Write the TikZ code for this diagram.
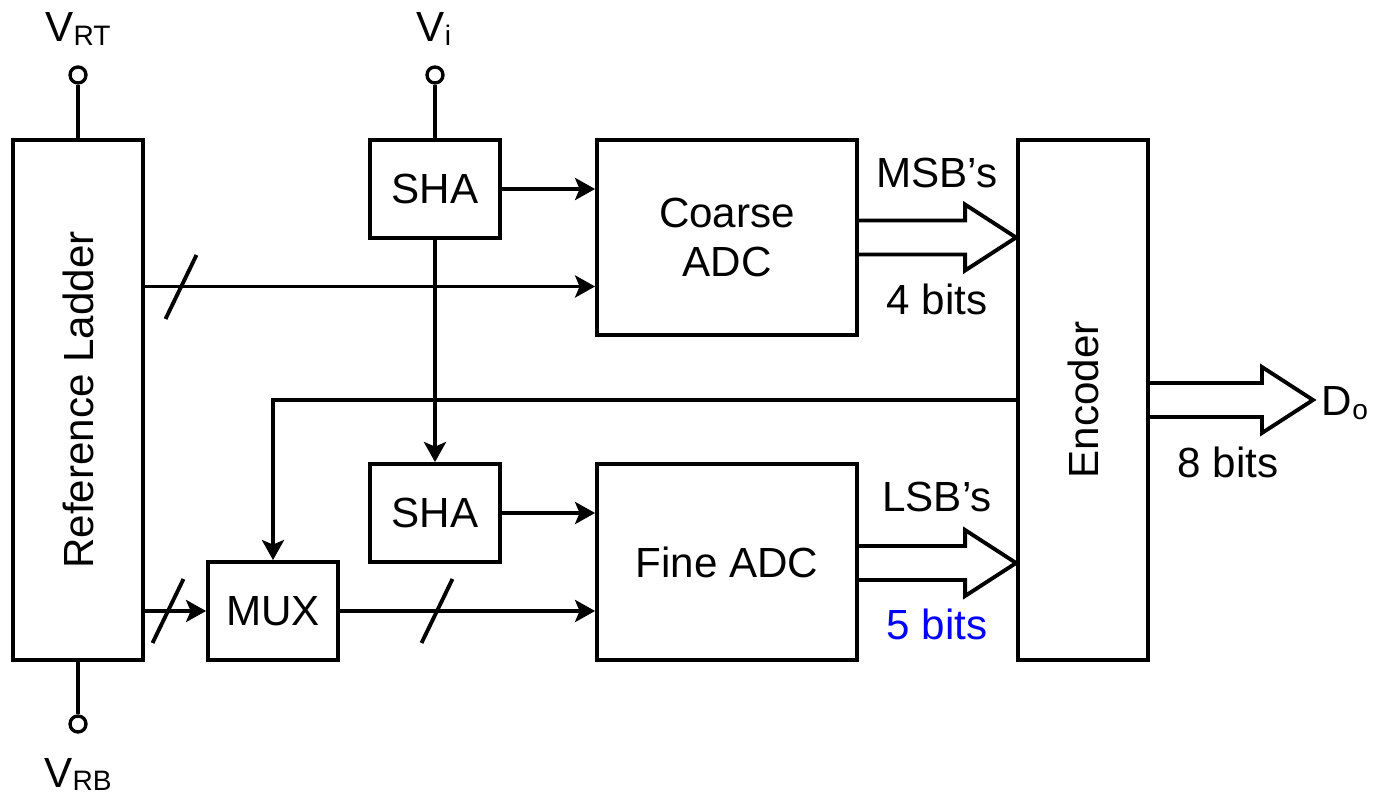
\documentclass[tikz,border=0pt]{standalone}
\usepackage{fontspec}
\setmainfont{Liberation Sans}
\usetikzlibrary{arrows.meta,calc}
\definecolor{bitblue}{RGB}{0,0,255}
\newcommand{\sub}[1]{\raisebox{-1.8pt}{\fontsize{16}{16}\selectfont #1}}
\tikzset{blk/.style={draw,line width=2.2pt,align=center,inner sep=0pt,font=\fontsize{24}{27.5}\selectfont},
 arr/.style={-{Stealth[length=4mm,width=4.4mm,inset=0.9mm]},line width=2.2pt},
 wire/.style={line width=2.2pt},
 bus/.style={line width=2.2pt,line join=miter},
 term/.style={draw,circle,line width=1.9pt,minimum size=0.32cm,inner sep=0pt,fill=white},
 lbl/.style={font=\fontsize{24}{27.5}\selectfont,inner sep=0pt}}
\newcommand{\busarr}[2]{%
 \draw[bus] let \p1=(#1), \p2=(#2) in (\x1,\y1+0.34cm) -- (\x2-1.02cm,\y1+0.34cm)
  -- (\x2-1.02cm,\y1+0.66cm) -- (\x2,\y1) -- (\x2-1.02cm,\y1-0.66cm)
  -- (\x2-1.02cm,\y1-0.34cm) -- (\x1,\y1-0.34cm);}

\begin{document}
\begin{tikzpicture}[x=0.02cm,y=-0.02cm]
\useasboundingbox (0,0) rectangle (1394,800);
% blocks
\node[blk,minimum width=2.6cm,minimum height=10.4cm] (lad) at (78,400) {\rotatebox{90}{Reference Ladder}};
\node[blk,minimum width=2.6cm,minimum height=1.96cm] (sha1) at (435,189) {SHA};
\node[blk,minimum width=2.6cm,minimum height=1.96cm] (sha2) at (435,513) {SHA};
\node[blk,minimum width=2.6cm,minimum height=1.96cm] (mux) at (273,611) {MUX};
\node[blk,minimum width=5.2cm,minimum height=3.9cm] (coarse) at (727,237.5) {Coarse\\ADC};
\node[blk,minimum width=5.2cm,minimum height=3.92cm] (fine) at (727,562) {Fine ADC};
\node[blk,minimum width=2.6cm,minimum height=10.4cm] (enc) at (1083,400) {\rotatebox{90}{Encoder}};
% terminals
\node[term] (vrt) at (78,75) {};
\node[term] (vrb) at (78,724) {};
\node[term] (vi) at (435,75) {};
\node[lbl,anchor=base] (lrt) at (78,42) {V\sub{RT}};
\node[lbl,anchor=base] (lrb) at (78,787) {V\sub{RB}};
\node[lbl,anchor=base] (li) at (434,42) {V\sub{i}};
\draw[wire] (vrt) -- (lad);
\draw[wire] (vrb) -- (lad);
\draw[wire] (vi) -- (sha1);
% signal paths
\coordinate (cin) at ([yshift=-0.98cm]coarse.west);
\draw[arr] (sha1.east) -- (sha1.east -| coarse.west);
\draw[arr] (cin -| lad.east) -- (cin);
\draw[arr] (sha1) -- (sha2);
\draw[arr] (sha2.east) -- (sha2.east -| fine.west);
\draw[arr] (mux.west -| lad.east) -- (mux.west);
\draw[arr] (mux.east) -- (mux.east -| fine.west);
\draw[arr] (enc.west) -| (mux.north);
% bus marks
\draw[wire] (181,287) +(-15.5,32) -- +(15.5,-32);
\draw[wire] (168,611) +(-15.5,32) -- +(15.5,-32);
\draw[wire] (437,611) +(-15.5,32) -- +(15.5,-32);
% wide outputs
\busarr{coarse.east}{enc.west}
\busarr{$(fine.east)+(0,1)$}{enc.west}
\busarr{enc.east}{1313,400}
\node[lbl,anchor=base] (msb) at (937,188) {MSB’s};
\node[lbl,anchor=base] (b4) at (937,315) {4 bits};
\node[lbl,anchor=base] (lsb) at (937,512) {LSB’s};
\node[lbl,anchor=base,text=bitblue] (b5) at (937,640) {5 bits};
\node[lbl,anchor=base] (b8) at (1228,478) {8 bits};
\node[lbl,anchor=base] (dout) at (1345,416) {D\sub{o}};
\end{tikzpicture}
\end{document}
